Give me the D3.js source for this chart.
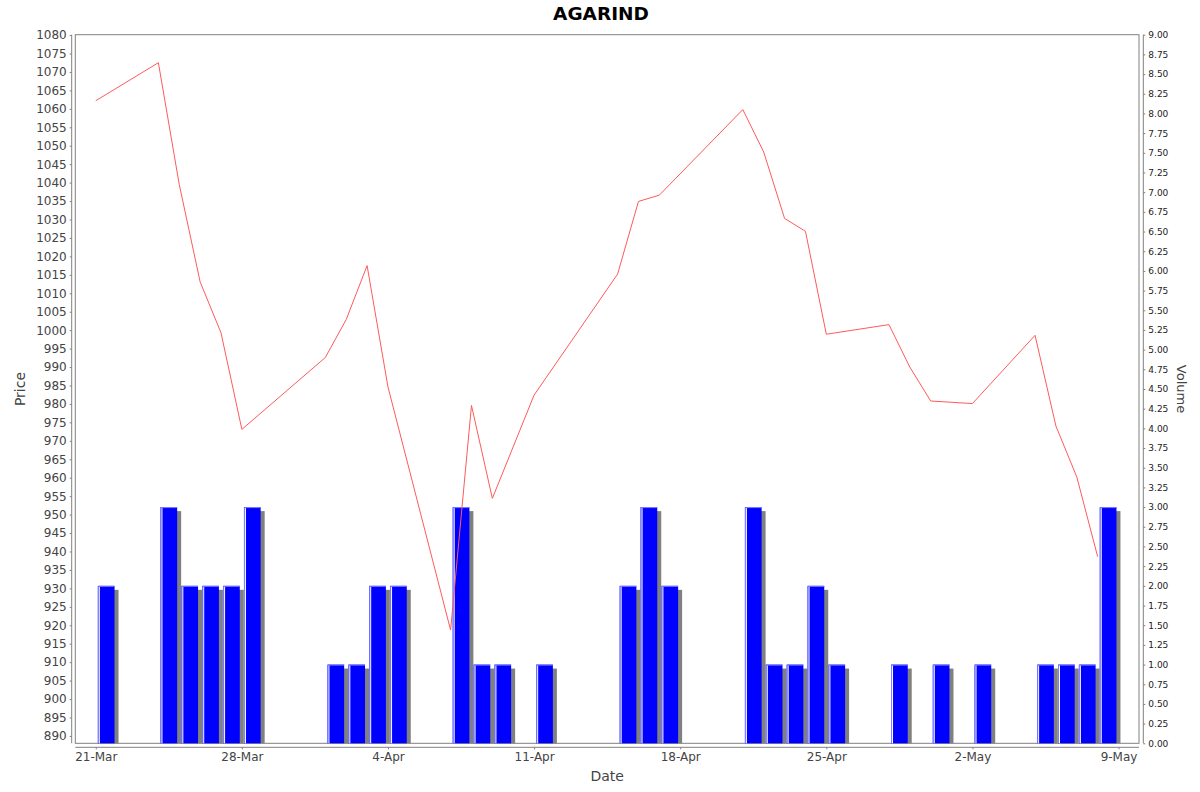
<!DOCTYPE html>
<html>
<head>
<meta charset="utf-8">
<script src="https://cdn.jsdelivr.net/npm/d3@7"></script>
<style>
  body { margin: 0; background: #fff; }
  svg { display: block; font-family: "DejaVu Sans", sans-serif; }
</style>
</head>
<body>
<div id="chart"></div>
<script>
"use strict";

// trading days (2025)
var dates = ["2025-03-21", "2025-03-24", "2025-03-25", "2025-03-26", "2025-03-27", "2025-03-28",
  "2025-04-01", "2025-04-02", "2025-04-03", "2025-04-04", "2025-04-07", "2025-04-08", "2025-04-09",
  "2025-04-11", "2025-04-15", "2025-04-16", "2025-04-17", "2025-04-21", "2025-04-22", "2025-04-23",
  "2025-04-24", "2025-04-25", "2025-04-28", "2025-04-29", "2025-04-30", "2025-05-02", "2025-05-05",
  "2025-05-06", "2025-05-07", "2025-05-08"];
var prices = [1062.2, 1072.5, 1039.5, 1013.1, 999.3, 973.1,
  992.6, 1002.9, 1017.5, 984.6, 918.7, 979.6, 954.4,
  982.4, 1015.2, 1034.9, 1036.6, 1059.8, 1048.3, 1030.3,
  1026.8, 998.9, 1001.5, 990.0, 980.8, 980.1, 998.6,
  974.0, 960.2, 938.6];
var volumes = [2, 3, 2, 2, 2, 3,
  1, 1, 2, 2, 3, 1, 1,
  1, 2, 3, 2, 3, 1, 1,
  2, 1, 1, 0, 1, 1, 1,
  1, 1, 3];
var xTickDates = ["2025-03-21", "2025-03-28", "2025-04-04", "2025-04-11", "2025-04-18", "2025-04-25", "2025-05-02", "2025-05-09"];
var priceTicks = d3.range(890, 1081, 5);
var volumeTicks = d3.range(0, 9.001, 0.25);

(function() {
  var width = 1200, height = 792;
  var pLeft = 75.3, pRight = 1139, pTop = 34.7, pBottom = 743.3;
  var DAY = 864e5;

  var parse = d3.timeParse("%Y-%m-%d");
  var rows = dates.map(function(d, i) {
    return { date: parse(d), price: prices[i], volume: volumes[i] };
  });

  // domain: first point to last bar end, with 2% margins
  var t0 = rows[0].date.getTime();
  var t1 = rows[rows.length - 1].date.getTime() + DAY;
  var pad = (t1 - t0) * 0.02;

  var x = d3.scaleTime().domain([new Date(t0 - pad), new Date(t1 + pad)]).range([pLeft, pRight]);
  var yPrice = d3.scaleLinear().domain([888, 1080.1]).range([pBottom, pTop]);
  var yVol = d3.scaleLinear().domain([0, 9]).range([pBottom, pTop]);

  var svg = d3.select("#chart").append("svg")
    .attr("width", width)
    .attr("height", height);

  // title
  svg.append("text")
    .attr("x", 601).attr("y", 20)
    .attr("text-anchor", "middle")
    .style("font-size", "18.5px").style("font-weight", "bold")
    .text("AGARIND");

  // plot outline
  svg.append("rect")
    .attr("x", pLeft).attr("y", pTop)
    .attr("width", pRight - pLeft).attr("height", pBottom - pTop)
    .attr("fill", "#fff").attr("stroke", "#808080").attr("stroke-width", 1);

  // volume bars
  var barG = svg.append("g");
  rows.filter(function(d) { return d.volume > 0; }).forEach(function(d) {
    var t = d.date.getTime();
    var x0 = x(new Date(t + DAY * 0.1)), x1 = x(new Date(t + DAY * 0.9));
    var yt = yVol(d.volume);
    barG.append("rect")
      .attr("x", x0 + 4).attr("y", yt + 4)
      .attr("width", x1 - x0).attr("height", pBottom - yt - 4)
      .attr("fill", "#808080");
    barG.append("rect")
      .attr("x", x0).attr("y", yt)
      .attr("width", x1 - x0).attr("height", pBottom - yt)
      .attr("fill", "#0000ff");
    barG.append("path")
      .attr("d", "M" + (x0 + 0.5) + "," + pBottom + "V" + (yt + 0.5) + "H" + x1)
      .attr("fill", "none").attr("stroke", "#8080ff");
    barG.append("line")
      .attr("x1", x0 + 1.5).attr("x2", x0 + 1.5)
      .attr("y1", yt + 1).attr("y2", pBottom)
      .attr("stroke", "#fff");
  });

  // price line
  var line = d3.line()
    .x(function(d) { return x(d.date); })
    .y(function(d) { return yPrice(d.price); });
  svg.append("path")
    .datum(rows)
    .attr("d", line)
    .attr("fill", "none")
    .attr("stroke", "#ff5a5a")
    .attr("stroke-width", 1);

  // axes
  var leftAxis = d3.axisLeft(yPrice).tickValues(priceTicks).tickSize(2).tickPadding(3)
    .tickFormat(d3.format("d"));
  var gL = svg.append("g").attr("transform", "translate(71.7,0)").call(leftAxis);

  var rightAxis = d3.axisRight(yVol).tickValues(volumeTicks).tickSize(2).tickPadding(3)
    .tickFormat(d3.format(".2f"));
  var gR = svg.append("g").attr("transform", "translate(1143.3,0)").call(rightAxis);

  var bottomAxis = d3.axisBottom(x).tickValues(xTickDates.map(parse)).tickSize(2).tickPadding(3)
    .tickFormat(d3.timeFormat("%-d-%b"));
  var gB = svg.append("g").attr("transform", "translate(0,747.3)").call(bottomAxis);

  [gL, gB].forEach(function(g) {
    g.selectAll("text").attr("fill", "#444").style("font-size", "12px")
      .style("font-family", "'DejaVu Sans', sans-serif");
  });
  gR.selectAll("text").attr("fill", "#222").style("font-size", "9px")
    .style("font-family", "'DejaVu Sans', sans-serif");
  gL.select(".domain").attr("d", "M0," + pTop + "V" + pBottom);
  gR.select(".domain").attr("d", "M0," + pTop + "V" + pBottom);
  gB.select(".domain").attr("d", "M" + pLeft + ",0H" + pRight);
  [gL, gR, gB].forEach(function(g) {
    g.select(".domain").attr("stroke", "#808080");
    g.selectAll(".tick line").attr("stroke", "#808080");
  });

  // axis titles
  svg.append("text")
    .attr("transform", "translate(25," + (pTop + pBottom) / 2 + ") rotate(-90)")
    .attr("text-anchor", "middle")
    .attr("fill", "#444")
    .style("font-size", "14px")
    .text("Price");

  svg.append("text")
    .attr("x", (pLeft + pRight) / 2).attr("y", 781)
    .attr("text-anchor", "middle")
    .attr("fill", "#444")
    .style("font-size", "14px")
    .text("Date");

  svg.append("text")
    .attr("transform", "translate(1177," + (pTop + pBottom) / 2 + ") rotate(90)")
    .attr("text-anchor", "middle")
    .attr("fill", "#444")
    .style("font-size", "13px")
    .text("Volume");
})();
</script>
</body>
</html>
